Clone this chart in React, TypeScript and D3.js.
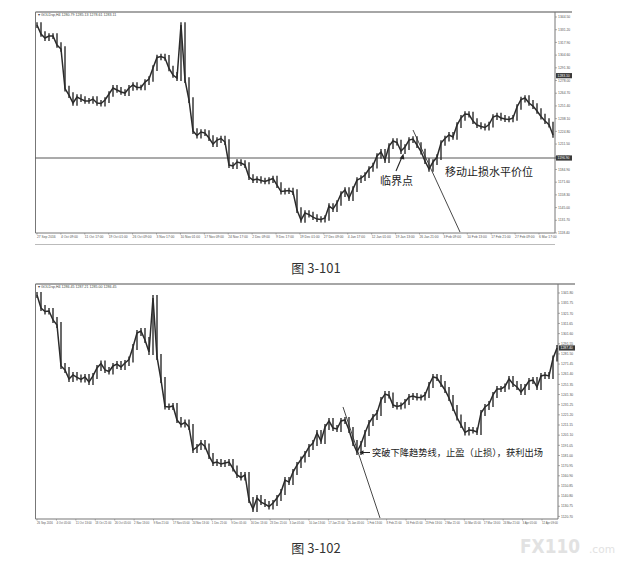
import React from 'react';
import * as d3 from 'd3';

// 그림 3-101: 4시간봉 종가 (왼쪽→오른쪽, 같은 간격으로 읽음)
const closes1 = [
  1336.1, 1326.7, 1322.5, 1324.6, 1324.6, 1315.2, 1311.0, 1269.6, 1262.8, 1254.5,
  1260.7, 1258.6, 1256.6, 1256.6, 1258.6, 1254.5, 1253.9, 1257.6, 1263.9, 1270.2,
  1268.1, 1266.0, 1264.9, 1270.2, 1273.3, 1270.7, 1270.7, 1276.4, 1279.6, 1291.1,
  1302.1, 1303.1, 1301.6, 1290.6, 1283.8, 1280.6, 1336.1, 1278.5, 1257.6, 1225.1,
  1220.4, 1224.1, 1223.0, 1217.8, 1211.5, 1215.7, 1217.3, 1213.6, 1189.5, 1188.5,
  1192.7, 1191.6, 1189.5, 1177.0, 1173.8, 1174.9, 1173.3, 1172.3, 1173.8, 1175.4,
  1168.6, 1161.8, 1162.3, 1162.8, 1161.3, 1142.4, 1132.0, 1139.3, 1137.7, 1135.1,
  1133.0, 1132.5, 1134.1, 1146.6, 1143.5, 1149.8, 1159.2, 1163.4, 1155.0, 1164.4,
  1173.8, 1175.9, 1179.1, 1185.4, 1189.0, 1199.0, 1203.2, 1194.8, 1209.4, 1214.7,
  1213.1, 1204.2, 1208.4, 1215.7, 1216.8, 1210.5, 1203.7, 1193.7, 1185.4, 1192.7,
  1197.9, 1212.6, 1217.3, 1221.0, 1218.9, 1231.4, 1238.8, 1242.9, 1242.4, 1235.6,
  1231.4, 1229.9, 1228.8, 1231.9, 1239.8, 1241.4, 1238.8, 1237.7, 1237.2, 1238.8,
  1250.3, 1258.1, 1259.7, 1254.5, 1251.3, 1246.1, 1240.3, 1235.6, 1231.9, 1221.0,
];
const priceTicks1 = [
  '1344.50', '1331.20', '1317.90', '1304.60', '1291.30', '1278.00', '1264.70', '1251.40', '1238.10',
  '1224.80', '1211.50', '1198.20', '1184.90', '1171.60', '1158.30', '1145.00', '1131.70', '1118.40',
];
const dateTicks1 = [
  '27 Sep 2016', '4 Oct 09:00', '11 Oct 17:00', '19 Oct 01:00', '26 Oct 09:00', '3 Nov 17:00',
  '10 Nov 01:00', '17 Nov 09:00', '24 Nov 17:00', '2 Dec 09:00', '9 Dec 17:00', '19 Dec 01:00',
  '27 Dec 09:00', '4 Jan 17:00', '12 Jan 01:00', '19 Jan 13:00', '26 Jan 21:00', '3 Feb 09:00',
  '10 Feb 13:00', '17 Feb 21:00', '27 Feb 09:00', '6 Mar 17:00',
];
const stopLevel1 = 1196.9;
const markBox1 = 1283.1;
const trend1: [number, number][] = [[94, 1226.2], [105.75, 1119.4]];

// 그림 3-102
const closes2 = [
  1339.9, 1327.0, 1323.5, 1324.0, 1315.1, 1310.2, 1269.6, 1265.6, 1256.7, 1260.7,
  1258.2, 1256.2, 1258.7, 1253.7, 1259.7, 1267.6, 1272.0, 1265.6, 1264.1, 1269.6,
  1271.5, 1268.6, 1272.5, 1276.0, 1288.4, 1302.2, 1304.2, 1295.3, 1283.4, 1336.9,
  1278.5, 1255.7, 1229.5, 1229.0, 1230.0, 1216.1, 1211.6, 1213.6, 1209.2, 1186.4,
  1189.4, 1193.3, 1189.9, 1180.5, 1173.5, 1174.5, 1172.5, 1173.5, 1174.5, 1168.1,
  1161.7, 1159.2, 1161.7, 1136.9, 1128.0, 1138.9, 1134.9, 1132.9, 1130.5, 1133.9,
  1138.9, 1144.8, 1156.7, 1154.7, 1164.6, 1171.5, 1177.0, 1182.4, 1189.4, 1193.3,
  1203.2, 1195.3, 1209.2, 1215.1, 1208.2, 1207.2, 1215.1, 1216.1, 1206.2, 1193.3,
  1184.4, 1192.3, 1203.2, 1213.1, 1219.1, 1223.0, 1235.9, 1241.8, 1240.4, 1230.9,
  1229.5, 1230.5, 1233.9, 1238.9, 1239.9, 1238.4, 1238.4, 1240.9, 1250.8, 1258.7,
  1257.7, 1251.7, 1245.8, 1237.9, 1228.0, 1218.6, 1211.2, 1203.7, 1206.2, 1205.7,
  1204.2, 1223.0, 1229.0, 1231.9, 1240.9, 1246.8, 1246.8, 1249.3, 1256.7, 1251.7,
  1248.8, 1243.8, 1248.8, 1254.7, 1255.7, 1248.8, 1259.7, 1260.7, 1259.7, 1277.0,
  1287.4,
];
const priceTicks2 = [
  '1341.80', '1331.75', '1321.70', '1311.65', '1301.60', '1291.55', '1281.50', '1271.45',
  '1261.40', '1251.35', '1241.30', '1231.25', '1221.20', '1211.15', '1201.10', '1191.05',
  '1181.00', '1170.95', '1160.90', '1150.85', '1140.80', '1130.75', '1120.70',
];
const dateTicks2 = [
  '26 Sep 2016', '4 Oct 05:00', '11 Oct 13:00', '18 Oct 21:00', '26 Oct 05:00', '2 Nov 13:00',
  '9 Nov 21:00', '17 Nov 05:00', '24 Nov 13:00', '1 Dec 21:00', '9 Dec 05:00', '16 Dec 13:00',
  '23 Dec 21:00', '3 Jan 05:00', '10 Jan 13:00', '17 Jan 21:00', '25 Jan 05:00', '1 Feb 13:00',
  '8 Feb 21:00', '16 Feb 05:00', '23 Feb 13:00', '2 Mar 21:00', '10 Mar 05:00', '17 Mar 13:00',
  '24 Mar 21:00', '3 Apr 05:00', '12 Apr 09:00',
];
const markBox2 = 1287.4;
const trend2: [number, number][] = [[76.5, 1229.0], [85.75, 1119.1]];

const INK = '#2b2b2b';
const AXIS_FONT = 'Liberation Sans, Arial, sans-serif';
const CJK_FONT = '"Noto Sans CJK SC", "Noto Sans", sans-serif';

interface PanelProps {
  closes: number[];
  priceTicks: string[];
  dateTicks: string[];
  top: number;
  bottom: number;
  plotRight: number;
  xEnd: number;
  yTop: number;
  yBottom: number;
  header: string;
  trend: [number, number][];
  boxes: number[];
  hLine?: number;
  dateFont: number;
}

const Panel: React.FC<PanelProps> = ({
  closes, priceTicks, dateTicks, top, bottom, plotRight, xEnd, yTop, yBottom, header, trend, boxes, hLine, dateFont,
}) => {
  const left = 35.5;
  const x = d3.scaleLinear().domain([0, closes.length - 1]).range([37, xEnd]);
  const lo = +priceTicks[priceTicks.length - 1];
  const hi = +priceTicks[0];
  const y = d3.scaleLinear().domain([lo, hi]).range([yBottom, yTop]);
  const xd = d3.scalePoint<string>().domain(dateTicks).range([37, plotRight - 16]);

  const line = d3.line<number>().x((_, i) => x(i)).y(d => y(d));

  return (
    <g>
      {/* 틀 */}
      <line x1={left} x2={plotRight + 17} y1={top} y2={top} stroke="#888" strokeWidth={1.4} />
      <line x1={left} x2={left} y1={top} y2={bottom} stroke="#777" strokeWidth={1} />
      <line x1={left} x2={plotRight} y1={bottom} y2={bottom} stroke="#777" strokeWidth={1} />
      <line x1={plotRight} x2={plotRight} y1={top} y2={bottom} stroke="#777" strokeWidth={1} />

      <text x={38} y={top + 3.8} fontSize={3.6} fill="#444" fontFamily={AXIS_FONT}>{header}</text>

      {/* 가격 축 */}
      {priceTicks.map(t => (
        <g key={t}>
          <line x1={plotRight} x2={plotRight + 2} y1={y(+t)} y2={y(+t)} stroke="#777" strokeWidth={0.6} />
          <text x={plotRight + 3} y={y(+t) + 1.2} fontSize={3.4} fill="#555" fontFamily={AXIS_FONT}>{t}</text>
        </g>
      ))}

      {/* 날짜 축 */}
      {dateTicks.map(t => (
        <g key={t}>
          <line x1={xd(t)!} x2={xd(t)!} y1={bottom} y2={bottom + 1.5} stroke="#777" strokeWidth={0.6} />
          <text x={xd(t)!} y={bottom + 5} fontSize={dateFont} fill="#555" fontFamily={AXIS_FONT}>{t}</text>
        </g>
      ))}

      {hLine !== undefined && (
        <line x1={left} x2={plotRight + 17} y1={y(hLine)} y2={y(hLine)} stroke="#444" strokeWidth={0.9} />
      )}

      {/* 봉 */}
      {closes.map((c, i) => {
        const prev = i > 0 ? closes[i - 1] : c;
        return (
          <line key={i} x1={x(i)} x2={x(i)} y1={y(Math.max(prev, c) + 3)} y2={y(Math.min(prev, c) - 3)}
            stroke={INK} strokeWidth={1.4} />
        );
      })}
      <path d={line(closes) ?? ''} fill="none" stroke={INK} strokeWidth={1.5} strokeLinejoin="miter" />

      {/* 추세선 */}
      <line x1={x(trend[0][0])} y1={y(trend[0][1])} x2={x(trend[1][0])} y2={y(trend[1][1])}
        stroke="#333" strokeWidth={0.9} />

      {boxes.map(b => (
        <g key={b}>
          <rect x={plotRight + 1} y={y(b) - 2.6} width={16} height={5.2} fill="#3a3a3a" />
          <text x={plotRight + 2.5} y={y(b) + 1.2} fontSize={3.4} fill="#fff" fontFamily={AXIS_FONT}>{b.toFixed(2)}</text>
        </g>
      ))}
    </g>
  );
};

const App: React.FC = () => {
  return (
    <div style={{ position: 'absolute', left: 0, top: 0 }}>
      <svg width={629} height={564} viewBox="0 0 629 564" style={{ display: 'block', background: '#fff' }}>
        <rect width={629} height={564} fill="#fff" />

        <Panel
          closes={closes1} priceTicks={priceTicks1} dateTicks={dateTicks1}
          top={12} bottom={233} plotRight={555} xEnd={553} yTop={17} yBottom={233}
          header="▾ GOLDsp,H4  1280.79 1285.13 1278.61 1283.11"
          trend={trend1} boxes={[markBox1, stopLevel1]} hLine={stopLevel1} dateFont={3.3}
        />
        <line x1={35} x2={555} y1={244.5} y2={244.5} stroke="#aaa" strokeWidth={0.8} />

        {/* 주석 3-101 */}
        <line x1={396} y1={171} x2={402} y2={157} stroke="#222" strokeWidth={1.1} />
        <path d="M403.5,153.5 L399.6,158.6 L404.3,159.6 Z" fill="#222" />
        <text x={380} y={185} fontSize={11} fill="#222" fontFamily={CJK_FONT}>临界点</text>
        <text x={445} y={176} fontSize={11} fill="#222" fontFamily={CJK_FONT}>移动止损水平价位</text>
        <text x={316} y={273} fontSize={13} fill="#333" textAnchor="middle" fontFamily={CJK_FONT}>图 3-101</text>

        <Panel
          closes={closes2} priceTicks={priceTicks2} dateTicks={dateTicks2}
          top={284} bottom={519} plotRight={558} xEnd={557} yTop={293} yBottom={516.4}
          header="▾ GOLDsp,H4  1286.45 1287.21 1285.00 1286.45"
          trend={trend2} boxes={[markBox2]} dateFont={2.8}
        />

        {/* 주석 3-102 */}
        <line x1={362} y1={452.5} x2={370} y2={452.5} stroke="#222" strokeWidth={1} />
        <path d="M359.5,452.5 L363.5,450.3 L363.5,454.7 Z" fill="#222" />
        <text x={372} y={456} fontSize={9.6} fill="#222" fontFamily={CJK_FONT}
          textLength={171} lengthAdjust="spacingAndGlyphs">突破下降趋势线，止盈（止损），获利出场</text>
        <text x={316} y={553} fontSize={13} fill="#333" textAnchor="middle" fontFamily={CJK_FONT}>图 3-102</text>

        {/* 워터마크 */}
        <text x={520} y={553} fontSize={20} fontWeight="bold" fill="#e2e2e2" fontFamily="DejaVu Sans, sans-serif"
          textLength={60} lengthAdjust="spacingAndGlyphs">FX110</text>
        <text x={589} y={553} fontSize={11} fill="#e2e2e2" fontFamily="DejaVu Sans, sans-serif"
          textLength={26} lengthAdjust="spacingAndGlyphs">.com</text>
      </svg>
    </div>
  );
};

export default App;
